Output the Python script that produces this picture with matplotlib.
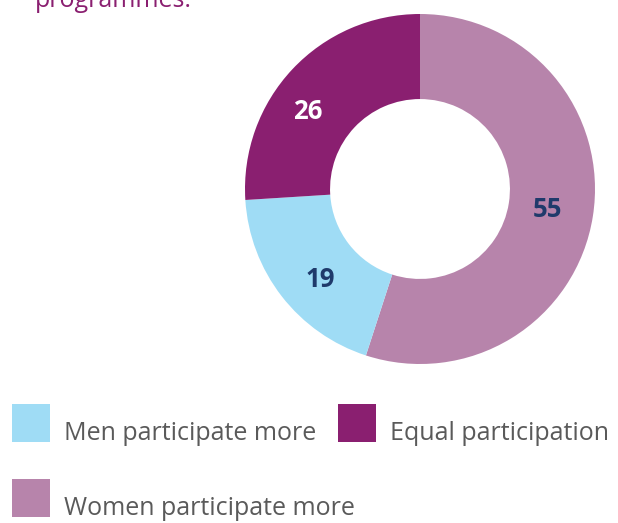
import matplotlib.pyplot as plt
from matplotlib.patches import Rectangle

plt.rcParams['font.family'] = ['Open Sans', 'DejaVu Sans']

# Data
categories = ["Women participate more", "Men participate more", "Equal participation"]
values = [55, 19, 26]
colors = ["#B784AB", "#9FDCF5", "#8A1F70"]
label_colors = ["#1F3A6B", "#1F3A6B", "white"]

legend_order = ["Men participate more", "Equal participation", "Women participate more"]

# small nudges of the value labels (axes units, radius = 1)
label_nudge = [(-0.02, 0.0), (0.03, -0.05), (-0.085, -0.08)]

W, H = 618, 523
fig = plt.figure(figsize=(W / 100, H / 100), dpi=100)

# donut: centre (420, 189) px, outer radius 175 px
cx, cy, r = 420, 189, 175
ax = fig.add_axes([(cx - r) / W, (H - cy - r) / H, 2 * r / W, 2 * r / H])
wedges, texts = ax.pie(values, colors=colors, startangle=90, counterclock=False,
                       radius=1, wedgeprops=dict(width=0.486, edgecolor="none"),
                       labels=[str(v) for v in values], labeldistance=0.76)
for t, c, (dx, dy) in zip(texts, label_colors, label_nudge):
    x, y = t.get_position()
    t.set_position((x + dx, y + dy))
    t.set_color(c)
    t.set_fontsize(18.5)
    t.set_fontweight("bold")
    t.set_ha("center")
    t.set_va("center")
ax.set_xlim(-1, 1)
ax.set_ylim(-1, 1)
ax.set_aspect("equal")
ax.axis("off")

# heading text, cut off at the top edge as in the source
fig.text(35 / W, 1 - 7 / H, "programmes.", color="#8A1F70", fontsize=18,
         ha="left", va="baseline")

# legend
sq_x = [12, 338]
txt_x = [64, 390]
sq_y = [404, 479]
base_y = [440, 515]
for i, name in enumerate(legend_order):
    c = colors[categories.index(name)]
    col, row = i % 2, i // 2
    fig.patches.append(Rectangle((sq_x[col] / W, 1 - (sq_y[row] + 38) / H),
                                 38 / W, 38 / H, transform=fig.transFigure,
                                 facecolor=c, edgecolor="none"))
    fig.text(txt_x[col] / W, 1 - base_y[row] / H, name,
             color="#5A5A5A", fontsize=18, ha="left", va="baseline")

fig.savefig("out.png", dpi=100)
